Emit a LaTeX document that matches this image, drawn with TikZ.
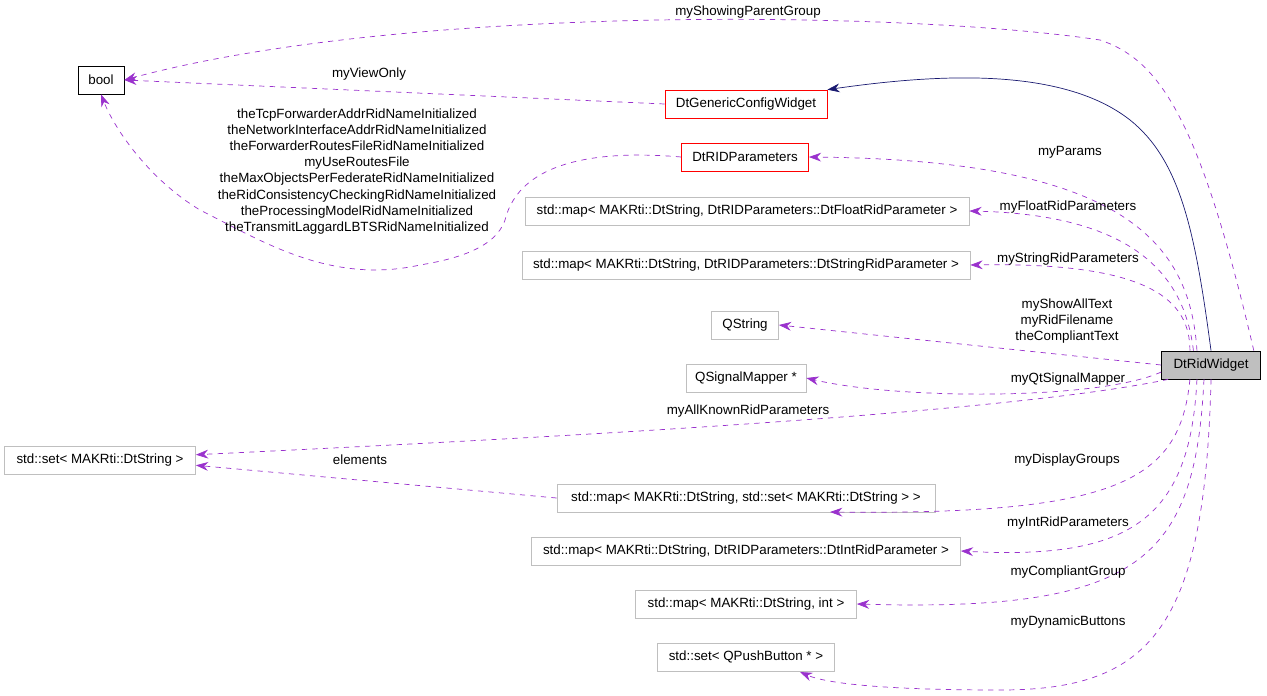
\documentclass[tikz,border=0pt]{standalone}
\usepackage{fontspec}
\setmainfont{Liberation Sans}
\usetikzlibrary{arrows,arrows.meta,positioning,calc}
\definecolor{edgepurple}{HTML}{9A32CD}
\definecolor{navyline}{HTML}{191970}
\definecolor{boxgray}{HTML}{BFBFBF}
\begin{document}
\begin{tikzpicture}[x=0.02cm,y=-0.02cm,>={Stealth[length=7pt,width=5pt]},
   font=\fontsize{7.6}{9.2}\selectfont,
   cls/.style={draw=boxgray,fill=white,inner sep=0pt,minimum height=0.56cm},
   red cls/.style={cls,draw=red},
   main cls/.style={cls,draw=black,fill=boxgray},
   use/.style={->,dashed,draw=edgepurple,thin},
   lbl/.style={inner sep=0pt,align=center}]
  \useasboundingbox (0,0) rectangle (1267,696);
  % classes
  \node[cls,draw=black,minimum width=0.92cm] (bool) at (101,80) {bool};
  \node[red cls,minimum width=3.24cm] (gcw) at (746,104) {DtGenericConfigWidget};
  \node[red cls,minimum width=2.54cm] (ridp) at (745,157) {DtRIDParameters};
  \node[cls,minimum width=8.88cm] (mfloat) at (747,211) {std::map< MAKRti::DtString, DtRIDParameters::DtFloatRidParameter >};
  \node[cls,minimum width=8.96cm] (mstring) at (746,265) {std::map< MAKRti::DtString, DtRIDParameters::DtStringRidParameter >};
  \node[cls,minimum width=1.34cm] (qstr) at (745,325) {QString};
  \node[cls,minimum width=2.40cm] (qsm) at (746,378) {QSignalMapper *};
  \node[cls,minimum width=3.82cm] (sstr) at (100,460) {std::set< MAKRti::DtString >};
  \node[cls,minimum width=7.56cm] (mset) at (746,498) {std::map< MAKRti::DtString, std::set< MAKRti::DtString > >};
  \node[cls,minimum width=8.58cm] (mint) at (746,551) {std::map< MAKRti::DtString, DtRIDParameters::DtIntRidParameter >};
  \node[cls,minimum width=4.42cm] (mi) at (746,604) {std::map< MAKRti::DtString, int >};
  \node[cls,minimum width=3.54cm] (spb) at (746,657) {std::set< QPushButton * >};
  \node[main cls,minimum width=1.98cm] (w) at (1211,365) {DtRidWidget};
  % inheritance
  \draw[->,navyline,thin] (w.north) .. controls (1195,230) and (1180,160) .. (1130,120)
     .. controls (1060,65) and (930,75) .. (gcw.north east);
  % members
  \draw[use] ([xshift=-4pt]w.north east) .. controls (1200,120) and (1160,60) .. (1100,40)
     .. controls (900,10) and (400,5) .. (bool.east);
  \draw[use] (gcw.west) -- (bool.east);
  \draw[use] (ridp.west) .. controls (600,150) and (520,160) .. (505,220)
     .. controls (495,250) and (450,260) .. (420,265)
     .. controls (330,285) and (260,240) .. (200,210)
     .. controls (150,180) and (115,130) .. (bool.south);
  \draw[use] ([xshift=-8pt]w.north) .. controls (1190,240) and (1120,160) .. (ridp.east);
  \draw[use] ([xshift=-10pt]w.north) .. controls (1185,280) and (1140,215) .. (mfloat.east);
  \draw[use] ([xshift=-12pt]w.north) .. controls (1190,300) and (1150,262) .. (mstring.east);
  \draw[use] (w.west) -- (qstr.east);
  \draw[use] ([yshift=-4pt]w.west) .. controls (1100,400) and (900,400) .. (qsm.east);
  \draw[use] ([xshift=4pt]w.south west) .. controls (1000,415) and (500,440) .. ([yshift=3pt]sstr.east);
  \draw[use] (mset.west) -- ([yshift=-3pt]sstr.east);
  \draw[use] ([xshift=-12pt]w.south) .. controls (1180,480) and (1120,515) .. (830,512);
  \draw[use] ([xshift=-8pt]w.south) .. controls (1190,520) and (1130,560) .. (mint.east);
  \draw[use] ([xshift=-4pt]w.south) .. controls (1195,560) and (1140,612) .. (mi.east);
  \draw[use] (w.south) .. controls (1205,630) and (1150,690) .. (1000,690)
     .. controls (900,690) and (830,685) .. (800,672);
  % labels
  \node[lbl] (lshow) at (748,12) {myShowingParentGroup};
  \node[lbl] (lview) at (369,74) {myViewOnly};
  \node[lbl,text depth=0pt] (lbools) at (357,170) {theTcpForwarderAddrRidNameInitialized\\theNetworkInterfaceAddrRidNameInitialized\\theForwarderRoutesFileRidNameInitialized\\myUseRoutesFile\\theMaxObjectsPerFederateRidNameInitialized\\theRidConsistencyCheckingRidNameInitialized\\theProcessingModelRidNameInitialized\\theTransmitLaggardLBTSRidNameInitialized};
  \node[lbl] (lparams) at (1070,152) {myParams};
  \node[lbl] (lfloat) at (1068,207) {myFloatRidParameters};
  \node[lbl] (lstring) at (1068,259) {myStringRidParameters};
  \node[lbl] (lqstr) at (1067,321) {myShowAllText\\myRidFilename\\theCompliantText};
  \node[lbl] (lqsm) at (1068,379) {myQtSignalMapper};
  \node[lbl] (lall) at (748,411) {myAllKnownRidParameters};
  \node[lbl] (lelem) at (360,460) {elements};
  \node[lbl] (ldisp) at (1067,460) {myDisplayGroups};
  \node[lbl] (lint) at (1068,523) {myIntRidParameters};
  \node[lbl] (lcompl) at (1068,572) {myCompliantGroup};
  \node[lbl] (ldyn) at (1068,622) {myDynamicButtons};
\end{tikzpicture}
\end{document}
